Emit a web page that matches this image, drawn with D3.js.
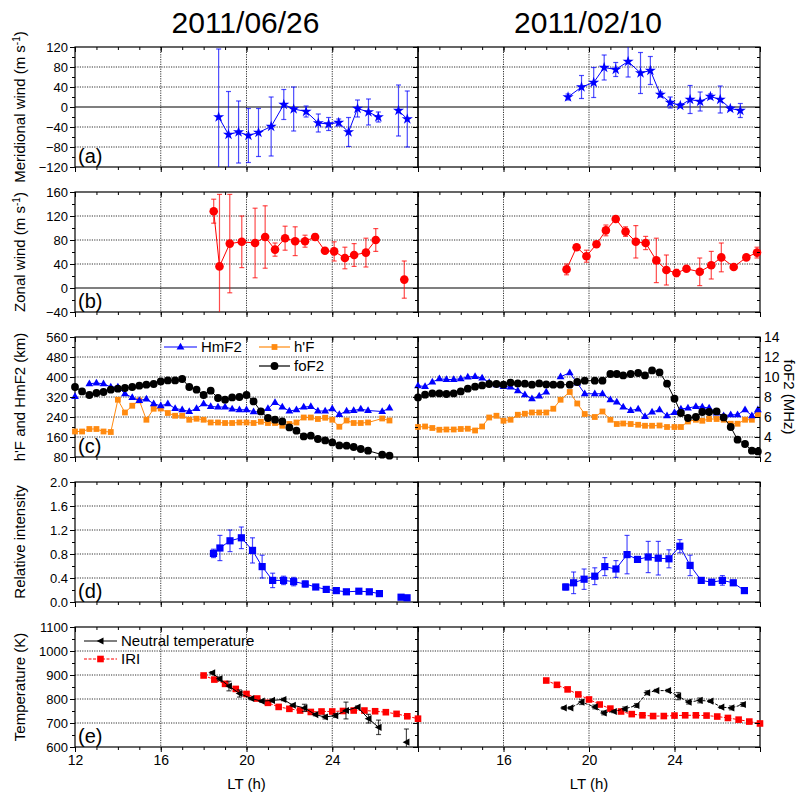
<!DOCTYPE html>
<html>
<head>
<meta charset="utf-8">
<script src="https://cdn.jsdelivr.net/npm/d3@7"></script>
<style>
  body { margin: 0; background: #fff; }
  svg { display: block; }
  text { font-family: "Liberation Sans", Arial, Helvetica, sans-serif; fill: #000; }
</style>
</head>
<body>
<svg id="chart" width="798" height="795"></svg>
<script>
// ---------------- data ----------------
const dates = ["2011/06/26", "2011/02/10"];

// (a) meridional wind, m/s
const merLT_0626  = [18.70, 19.16, 19.63, 20.09, 20.56, 21.15, 21.74, 22.20, 22.78, 23.35, 23.83, 24.30, 24.76, 25.18, 25.69, 26.15, 27.09, 27.50];
const mer_0626    = [-20, -55, -50, -57, -51, -39, 5, -4, -9, -32, -34, -31, -50, -3, -10, -20, -7, -24];
const merErr_0626 = [136, 86, 62, 54, 48, 59, 30, 44, 11, 18, 13, 7, 29, 17, 26, 10, 51, 56];
const merLT_0210  = [19.02, 19.65, 20.22, 20.71, 21.25, 21.83, 22.41, 22.87, 23.34, 23.80, 24.27, 24.73, 25.20, 25.68, 26.14, 26.61, 27.08];
const mer_0210    = [20, 40, 49, 79, 75, 91, 68, 73, 25, 9, 3, 15, 11, 21, 15, -3, -7];
const merErr_0210 = [6, 23, 30, 25, 14, 31, 41, 28, 5, 11, 4, 28, 19, 5, 27, 4, 14];

// (b) zonal wind, m/s
const zonLT_0626  = [18.47, 18.74, 19.22, 19.78, 20.40, 20.87, 21.33, 21.80, 22.27, 22.73, 23.20, 23.66, 24.09, 24.59, 25.02, 25.57, 26.03, 27.36];
const zon_0626    = [128, 36, 74, 77, 75, 85, 64, 83, 78, 78, 85, 62, 61, 50, 55, 59, 80, 14];
const zonErr_0626 = [20, 120, 82, 43, 58, 52, 11, 20, 24, 10, 5, 0, 16, 18, 19, 24, 19, 31];
const zonLT_0210  = [18.95, 19.42, 19.88, 20.35, 20.79, 21.25, 21.71, 22.19, 22.65, 23.15, 23.62, 24.09, 24.56, 25.18, 25.72, 26.19, 26.77, 27.36, 27.86];
const zon_0210    = [31, 68, 53, 73, 96, 115, 94, 77, 75, 46, 30, 25, 32, 27, 38, 51, 35, 51, 59];
const zonErr_0210 = [9, 0, 10, 0, 9, 0, 8, 27, 11, 37, 25, 6, 0, 23, 23, 24, 0, 0, 9];

// (c) ionosonde: HmF2 and h'F (km), foF2 (MHz)
const ionoLT_0626 = [12.0, 12.33, 12.67, 13.0, 13.33, 13.67, 14.0, 14.33, 14.67, 15.0, 15.33, 15.67, 16.0, 16.33, 16.67, 17.0, 17.33, 17.67, 18.0, 18.33, 18.67, 19.0, 19.33, 19.67, 20.0, 20.33, 20.67, 21.0, 21.33, 21.67, 22.0, 22.33, 22.67, 23.0, 23.33, 23.67, 24.0, 24.33, 24.67, 25.0, 25.33, 25.67, 26.33, 26.67];
const hmF2_0626   = [322, null, 373, 376, 373, 360, 360, 333, 318, 306, 312, 293, 285, 293, 274, 269, 262, 274, 293, 282, 280, 280, 272, 269, 269, 261, 261, 274, 298, 280, 264, 269, 280, 282, 264, 264, 273, 250, 264, 266, 272, 266, 262, 276];
const hpF_0626    = [182, 182, 192, 192, 182, 180, 309, 258, 285, 306, 229, 273, 274, 256, 245, 245, 229, 233, 229, 218, 218, 216, 216, 218, 218, 216, 221, 216, 216, 205, 212, 218, 238, 238, 232, 237, 229, 201, 226, 216, 216, 218, 234, 226];
const foF2_0626   = [9.0, 8.56, 8.2, 8.4, 8.5, 8.73, 8.83, 8.9, 9.0, 9.13, 9.23, 9.3, 9.56, 9.66, 9.66, 9.8, 9.0, 8.73, 8.2, 8.63, 7.9, 7.73, 7.96, 8.0, 8.2, 7.56, 6.56, 5.9, 5.73, 5.56, 4.96, 4.63, 4.06, 4.13, 3.8, 3.66, 3.46, 3.16, 3.13, 3.0, 2.8, 2.63, 2.23, 2.13];
const ionoLT_0210 = [12.0, 12.33, 12.67, 13.0, 13.33, 13.67, 14.0, 14.33, 14.67, 15.0, 15.33, 15.67, 16.0, 16.33, 16.67, 17.0, 17.33, 17.67, 18.0, 18.33, 18.67, 19.1, 19.45, 19.8, 20.27, 20.63, 21.0, 21.3, 21.6, 21.95, 22.3, 22.62, 22.95, 23.3, 23.65, 24.0, 24.3, 24.63, 25.0, 25.3, 25.62, 25.97, 26.3, 26.63, 26.95, 27.3, 27.62, 27.9];
const hmF2_0210   = [365, 362, 380, 393, 390, 390, 393, 400, 402, 396, 378, 369, 362, 360, 345, 329, 313, 324, 340, null, 401, 417, 376, 333, 333, 333, 309, 300, 280, 266, 272, 242, 260, 269, 245, 258, 272, 276, 282, 280, 276, 256, 245, 249, 249, 269, 245, 269];
const hpF_0210    = [200, 202, 196, 189, 190, 190, 192, 193, 186, 202, 238, 245, 225, 229, 249, 253, 258, 258, 258, 273, 309, 340, 294, 252, 240, 262, 229, 212, 214, 212, 209, 205, 205, 206, 200, 200, 200, 222, 229, 225, 232, 232, 229, 213, 213, 229, 229, 252];
const foF2_0210   = [7.96, 8.23, 8.36, 8.36, 8.3, 8.36, 8.56, 8.83, 9.03, 9.16, 9.3, 9.3, 9.23, 9.43, 9.36, 9.33, 9.23, 9.36, 9.26, 9.23, 9.23, 9.23, 9.5, 9.63, 9.63, 9.63, 10.3, 10.3, 10.16, 10.3, 10.4, 10.16, 10.66, 10.46, 9.33, 7.83, 6.4, 5.9, 6.0, 6.5, 6.5, 6.56, 5.96, 5.0, 3.73, 3.3, 2.63, 2.56];

// (d) relative airglow intensity
const relLT_0626  = [18.46, 18.76, 19.23, 19.76, 20.28, 20.73, 21.22, 21.73, 22.20, 22.74, 23.23, 23.72, 24.19, 24.66, 25.24, 25.73, 26.20, 27.21, 27.49];
const rel_0626    = [0.81, 0.90, 1.02, 1.07, 0.86, 0.59, 0.36, 0.36, 0.34, 0.30, 0.25, 0.21, 0.19, 0.17, 0.18, 0.17, 0.14, 0.08, 0.07];
const relErr_0626 = [0.07, 0.21, 0.18, 0.18, 0.21, 0.19, 0.12, 0.07, 0.07, 0.05, 0.03, 0.03, 0.02, 0.02, 0.02, 0.02, 0.02, 0.02, 0.02];
const relLT_0210  = [18.91, 19.28, 19.77, 20.27, 20.74, 21.26, 21.78, 22.27, 22.77, 23.24, 23.74, 24.25, 24.73, 25.25, 25.74, 26.24, 26.75, 27.27];
const rel_0210    = [0.25, 0.32, 0.38, 0.43, 0.59, 0.55, 0.79, 0.71, 0.75, 0.73, 0.72, 0.93, 0.61, 0.36, 0.33, 0.36, 0.32, 0.19];
const relErr_0210 = [0.05, 0.18, 0.17, 0.14, 0.15, 0.14, 0.32, 0.04, 0.26, 0.28, 0.15, 0.11, 0.17, 0.04, 0.04, 0.08, 0.04, 0.02];

// (e) neutral temperature and IRI temperature, K
const tnLT_0626   = [18.40, 18.74, 19.18, 19.67, 20.22, 20.71, 21.19, 21.72, 22.16, 22.70, 23.21, 23.66, 24.14, 24.64, 25.18, 25.69, 26.16, 27.46];
const tn_0626     = [909, 884, 854, 823, 802, 791, 794, 798, 774, 763, 735, 725, 731, 752, 766, 718, 682, 620];
const tnErr_0626  = [5, 8, 20, 15, 5, 5, 6, 5, 5, 15, 5, 8, 8, 35, 5, 18, 30, 55];
const tnLT_0210   = [18.82, 19.13, 19.65, 20.27, 20.69, 21.16, 21.67, 22.22, 22.72, 23.15, 23.70, 24.17, 24.66, 25.18, 25.68, 26.19, 26.66, 27.20];
const tn_0210     = [763, 763, 787, 767, 742, 748, 759, 773, 826, 835, 835, 812, 787, 794, 791, 766, 763, 777];
const tnErr_0210  = [5, 5, 10, 8, 8, 5, 8, 8, 8, 5, 5, 15, 8, 10, 5, 5, 8, 8];
const iriLT       = [18.0, 18.5, 19.0, 19.5, 20.0, 20.5, 21.0, 21.5, 22.0, 22.5, 23.0, 23.5, 24.0, 24.5, 25.0, 25.5, 26.0, 26.5, 27.0, 27.5, 28.0];
const iri_0626    = [898, 881, 863, 842, 821, 802, 784, 767, 759, 752, 746, 748, 748, 750, 752, 752, 749, 745, 738, 728, 718];
const iri_0210    = [877, 859, 840, 819, 798, 777, 760, 748, 737, 732, 729, 729, 731, 732, 732, 731, 727, 721, 714, 706, 698];

// axis ticks
const ltMajor   = [12, 16, 20, 24, 28];
const ltLabels  = [[12, 16, 20, 24], [16, 20, 24]];
const merTicks  = [-120, -80, -40, 0, 40, 80, 120];
const zonTicks  = [-40, 0, 40, 80, 120, 160];
const hTicks    = [80, 160, 240, 320, 400, 480, 560];
const foTicks   = [2, 4, 6, 8, 10, 12, 14];
const relTicks  = [0, 0.4, 0.8, 1.2, 1.6, 2.0];
const tempTicks = [600, 700, 800, 900, 1000, 1100];

// ---------------- layout ----------------
const svg = d3.select("#chart");
svg.append("rect").attr("width", 798).attr("height", 795).attr("fill", "#fff");

const cols = [{ x0: 75, x1: 418 }, { x0: 418, x1: 760 }];
const rows = [
  { y0: 47, y1: 167 }, { y0: 192, y1: 312 }, { y0: 337, y1: 457 },
  { y0: 482, y1: 602 }, { y0: 627, y1: 747 }
];
const xScales = cols.map(c => d3.scaleLinear().domain([12, 28]).range([c.x0, c.x1]));

const BLUE = "#0000ff", RED = "#ff0000", ORANGE = "#ff8a10", BLACK = "#000000";

const panels = [
  { tag: "(a)", domain: [-120, 120], ticks: merTicks, minor: 20, fmt: d3.format("d"), zero: true,
    title: ["Meridional wind (m s", "-1", ")"] },
  { tag: "(b)", domain: [-40, 160], ticks: zonTicks, minor: 20, fmt: d3.format("d"), zero: true,
    title: ["Zonal wind (m s", "-1", ")"] },
  { tag: "(c)", domain: [80, 560], ticks: hTicks, minor: 40, fmt: d3.format("d"),
    title: ["h'F and HmF2 (km)"] },
  { tag: "(d)", domain: [0, 2], ticks: relTicks, minor: 0.2, fmt: d3.format(".1f"),
    title: ["Relative intensity"] },
  { tag: "(e)", domain: [600, 1100], ticks: tempTicks, minor: 50, fmt: d3.format("d"),
    title: ["Temperature (K)"] }
];

// series for each panel row, per column
const series = [
  [
    [{ lt: merLT_0626, v: mer_0626, e: merErr_0626, color: BLUE, shape: "star" }],
    [{ lt: merLT_0210, v: mer_0210, e: merErr_0210, color: BLUE, shape: "star" }]
  ],
  [
    [{ lt: zonLT_0626, v: zon_0626, e: zonErr_0626, color: RED, shape: "circleL" }],
    [{ lt: zonLT_0210, v: zon_0210, e: zonErr_0210, color: RED, shape: "circleL" }]
  ],
  [
    [{ lt: ionoLT_0626, v: hpF_0626, color: ORANGE, shape: "square" },
     { lt: ionoLT_0626, v: hmF2_0626, color: BLUE, shape: "triUp" },
     { lt: ionoLT_0626, v: foF2_0626, color: BLACK, shape: "circle", right: true }],
    [{ lt: ionoLT_0210, v: hpF_0210, color: ORANGE, shape: "square" },
     { lt: ionoLT_0210, v: hmF2_0210, color: BLUE, shape: "triUp" },
     { lt: ionoLT_0210, v: foF2_0210, color: BLACK, shape: "circle", right: true }]
  ],
  [
    [{ lt: relLT_0626, v: rel_0626, e: relErr_0626, color: BLUE, shape: "squareL" }],
    [{ lt: relLT_0210, v: rel_0210, e: relErr_0210, color: BLUE, shape: "squareL" }]
  ],
  [
    [{ lt: iriLT, v: iri_0626, color: RED, shape: "squareM", dash: "3,1.5" },
     { lt: tnLT_0626, v: tn_0626, e: tnErr_0626, color: BLACK, shape: "triLeft" }],
    [{ lt: iriLT, v: iri_0210, color: RED, shape: "squareM", dash: "3,1.5" },
     { lt: tnLT_0210, v: tn_0210, e: tnErr_0210, color: BLACK, shape: "triLeft", dash: "3,1.5" }]
  ]
];

// marker outlines centred on the origin
const shapePath = {
  star: d3.symbol().type(d3.symbolStar).size(38)(),
  circleL: d3.symbol().type(d3.symbolCircle).size(Math.PI * 4.3 * 4.3)(),
  circle: d3.symbol().type(d3.symbolCircle).size(Math.PI * 3.9 * 3.9)(),
  square: "M-2.9,-2.9H2.9V2.9H-2.9Z",
  squareM: "M-3.3,-3.3H3.3V3.3H-3.3Z",
  squareL: "M-3.6,-3.6H3.6V3.6H-3.6Z",
  triUp: "M0,-4.3L3.9,2.5L-3.9,2.5Z",
  triLeft: "M-3.8,0L3.0,-3.6L3.0,3.6Z"
};

function styleAxis(g) {
  g.select(".domain").remove();
  g.selectAll(".tick line").attr("stroke", "#000").attr("stroke-width", 1);
  g.selectAll(".tick text").attr("font-size", 13)
    .attr("font-family", '"Liberation Sans", Arial, sans-serif').attr("fill", "#000");
}

// split a series into connected runs (a run breaks at missing values or long gaps)
function runs(lt, v) {
  const out = [];
  let cur = [];
  for (let i = 0; i < lt.length; i++) {
    if (v[i] == null) { if (cur.length) out.push(cur); cur = []; continue; }
    if (cur.length && lt[i] - lt[cur[cur.length - 1]] > 0.8) { out.push(cur); cur = []; }
    cur.push(i);
  }
  if (cur.length) out.push(cur);
  return out;
}

const defs = svg.append("defs");
const gridG = svg.append("g");
const frameG = svg.append("g");
const dataG = svg.append("g");
const axisG = svg.append("g");

panels.forEach((p, r) => {
  const row = rows[r];
  const y = d3.scaleLinear().domain(p.domain).range([row.y1, row.y0]);
  const yFo = d3.scaleLinear().domain([2, 14]).range([row.y1, row.y0]);
  const minorTicks = d3.range(p.domain[0], p.domain[1] + p.minor / 2, p.minor);

  cols.forEach((col, c) => {
    const x = xScales[c];
    const clipId = `clip-${r}-${c}`;
    defs.append("clipPath").attr("id", clipId).append("rect")
      .attr("x", col.x0).attr("y", row.y0)
      .attr("width", col.x1 - col.x0).attr("height", row.y1 - row.y0);

    // dotted grid
    gridG.selectAll(null)
      .data(p.ticks.filter(t => t > p.domain[0] && t < p.domain[1] && !(p.zero && t === 0)))
      .join("line")
      .attr("x1", col.x0).attr("x2", col.x1)
      .attr("y1", d => y(d)).attr("y2", d => y(d))
      .attr("stroke", "#333").attr("stroke-width", 1).attr("stroke-dasharray", "1.2,1.2");
    gridG.selectAll(null).data([16, 20, 24]).join("line")
      .attr("x1", d => x(d)).attr("x2", d => x(d))
      .attr("y1", row.y0).attr("y2", row.y1)
      .attr("stroke", "#333").attr("stroke-width", 1).attr("stroke-dasharray", "1.2,1.2");
    if (p.zero) {
      gridG.append("line").attr("x1", col.x0).attr("x2", col.x1)
        .attr("y1", y(0)).attr("y2", y(0)).attr("stroke", "#000").attr("stroke-width", 1.2);
    }

    // frame
    frameG.append("rect").attr("x", col.x0).attr("y", row.y0)
      .attr("width", col.x1 - col.x0).attr("height", row.y1 - row.y0)
      .attr("fill", "none").attr("stroke", "#000").attr("stroke-width", 1.2);

    // left axis
    axisG.append("g").attr("transform", `translate(${col.x0},0)`)
      .call(d3.axisLeft(y).tickValues(p.ticks).tickSize(5).tickPadding(2)
        .tickFormat(c === 0 ? p.fmt : ""))
      .call(styleAxis);
    axisG.append("g").attr("transform", `translate(${col.x0},0)`)
      .call(d3.axisLeft(y).tickValues(minorTicks).tickSize(3).tickFormat(""))
      .call(styleAxis);

    // right axis (ticks pointing inward)
    if (c === 1) {
      if (r === 2) {
        axisG.append("g").attr("transform", `translate(${col.x1},0)`)
          .call(d3.axisRight(yFo).tickValues(foTicks).tickSize(-5).tickPadding(4))
          .call(styleAxis)
          .call(g => g.selectAll(".tick text").attr("font-size", 14));
        axisG.append("g").attr("transform", `translate(${col.x1},0)`)
          .call(d3.axisRight(yFo).tickValues(d3.range(2, 14.5, 1)).tickSize(-3).tickFormat(""))
          .call(styleAxis);
      } else {
        axisG.append("g").attr("transform", `translate(${col.x1},0)`)
          .call(d3.axisLeft(y).tickValues(p.ticks).tickSize(5).tickFormat(""))
          .call(styleAxis);
        axisG.append("g").attr("transform", `translate(${col.x1},0)`)
          .call(d3.axisLeft(y).tickValues(minorTicks).tickSize(3).tickFormat(""))
          .call(styleAxis);
      }
    }

    // top axis (inward) and bottom axis (outward)
    const hourTicks = d3.range(12, 28.5, 1);
    axisG.append("g").attr("transform", `translate(0,${row.y0})`)
      .call(d3.axisBottom(x).tickValues(ltMajor).tickSize(5).tickFormat(""))
      .call(styleAxis);
    axisG.append("g").attr("transform", `translate(0,${row.y0})`)
      .call(d3.axisBottom(x).tickValues(hourTicks).tickSize(3).tickFormat(""))
      .call(styleAxis);
    const labels = r === panels.length - 1 ? ltLabels[c] : [];
    axisG.append("g").attr("transform", `translate(0,${row.y1})`)
      .call(d3.axisBottom(x).tickValues(ltMajor).tickSize(5).tickPadding(3)
        .tickFormat(d => labels.includes(d) ? d : ""))
      .call(styleAxis)
      .call(g => g.selectAll(".tick text").attr("font-size", 14));
    axisG.append("g").attr("transform", `translate(0,${row.y1})`)
      .call(d3.axisBottom(x).tickValues(hourTicks).tickSize(3).tickFormat(""))
      .call(styleAxis);

    // data
    series[r][c].forEach(s => {
      const ys = s.right ? yFo : y;
      const sg = dataG.append("g");
      const clipped = sg.append("g").attr("clip-path", `url(#${clipId})`);

      if (s.e) {
        const idx = d3.range(s.lt.length).filter(i => s.e[i] > 0);
        const eb = clipped.selectAll(null).data(idx).join("g")
          .attr("stroke", s.color).attr("stroke-opacity", 0.7).attr("stroke-width", 1.2);
        eb.append("line")
          .attr("x1", i => x(s.lt[i])).attr("x2", i => x(s.lt[i]))
          .attr("y1", i => ys(s.v[i] - s.e[i])).attr("y2", i => ys(s.v[i] + s.e[i]));
        eb.append("line")
          .attr("x1", i => x(s.lt[i]) - 2.5).attr("x2", i => x(s.lt[i]) + 2.5)
          .attr("y1", i => ys(s.v[i] - s.e[i])).attr("y2", i => ys(s.v[i] - s.e[i]));
        eb.append("line")
          .attr("x1", i => x(s.lt[i]) - 2.5).attr("x2", i => x(s.lt[i]) + 2.5)
          .attr("y1", i => ys(s.v[i] + s.e[i])).attr("y2", i => ys(s.v[i] + s.e[i]));
      }

      const line = d3.line().x(i => x(s.lt[i])).y(i => ys(s.v[i]));
      clipped.selectAll(null).data(runs(s.lt, s.v)).join("path")
        .attr("d", line).attr("fill", "none").attr("stroke", s.color)
        .attr("stroke-width", 1).attr("stroke-dasharray", s.dash || null);

      sg.selectAll(null)
        .data(d3.range(s.lt.length).filter(i => s.v[i] != null && ys(s.v[i]) >= row.y0 - 1 && ys(s.v[i]) <= row.y1 + 1))
        .join("path")
        .attr("d", shapePath[s.shape])
        .attr("transform", i => `translate(${x(s.lt[i])},${ys(s.v[i])})`)
        .attr("fill", s.color);
    });
  });

  // panel tag
  svg.append("text").attr("x", 78).attr("y", row.y1 - 4)
    .attr("font-size", 20).text(p.tag);

  // y-axis title
  const cy = (row.y0 + row.y1) / 2;
  const t = svg.append("text")
    .attr("transform", `translate(25,${cy}) rotate(-90)`)
    .attr("text-anchor", "middle").attr("font-size", 15);
  t.append("tspan").text(p.title[0]);
  if (p.title.length > 1) {
    t.append("tspan").attr("dy", -5).attr("font-size", 10).text(p.title[1]);
    t.append("tspan").attr("dy", 5).text(p.title[2]);
  }
});

// foF2 axis title
svg.append("text").attr("transform", `translate(784,${(rows[2].y0 + rows[2].y1) / 2}) rotate(90)`)
  .attr("text-anchor", "middle").attr("font-size", 15).text("foF2 (MHz)");

// date titles and x-axis titles
cols.forEach((col, c) => {
  const cx = (col.x0 + col.x1) / 2;
  svg.append("text").attr("x", cx - 1).attr("y", 33).attr("text-anchor", "middle")
    .attr("font-size", 30).text(dates[c]);
  svg.append("text").attr("x", cx).attr("y", 789).attr("text-anchor", "middle")
    .attr("font-size", 15).text("LT (h)");
});

// legends
function legendItem(x0, x1, y, color, shape, label, dash) {
  const g = svg.append("g");
  g.append("line").attr("x1", x0).attr("x2", x1).attr("y1", y).attr("y2", y)
    .attr("stroke", color).attr("stroke-width", 1.2).attr("stroke-dasharray", dash || null);
  g.append("path").attr("d", shapePath[shape])
    .attr("transform", `translate(${(x0 + x1) / 2},${y})`).attr("fill", color);
  g.append("text").attr("x", x1 + 4).attr("y", y + 5).attr("font-size", 15).text(label);
}
legendItem(164, 197, 347, BLUE, "triUp", "HmF2");
legendItem(259, 290, 347, ORANGE, "square", "h'F");
legendItem(259, 290, 366, BLACK, "circle", "foF2");
legendItem(84, 117, 641, BLACK, "triLeft", "Neutral temperature");
legendItem(84, 117, 659, RED, "squareM", "IRI", "3,1.5");
</script>
</body>
</html>
